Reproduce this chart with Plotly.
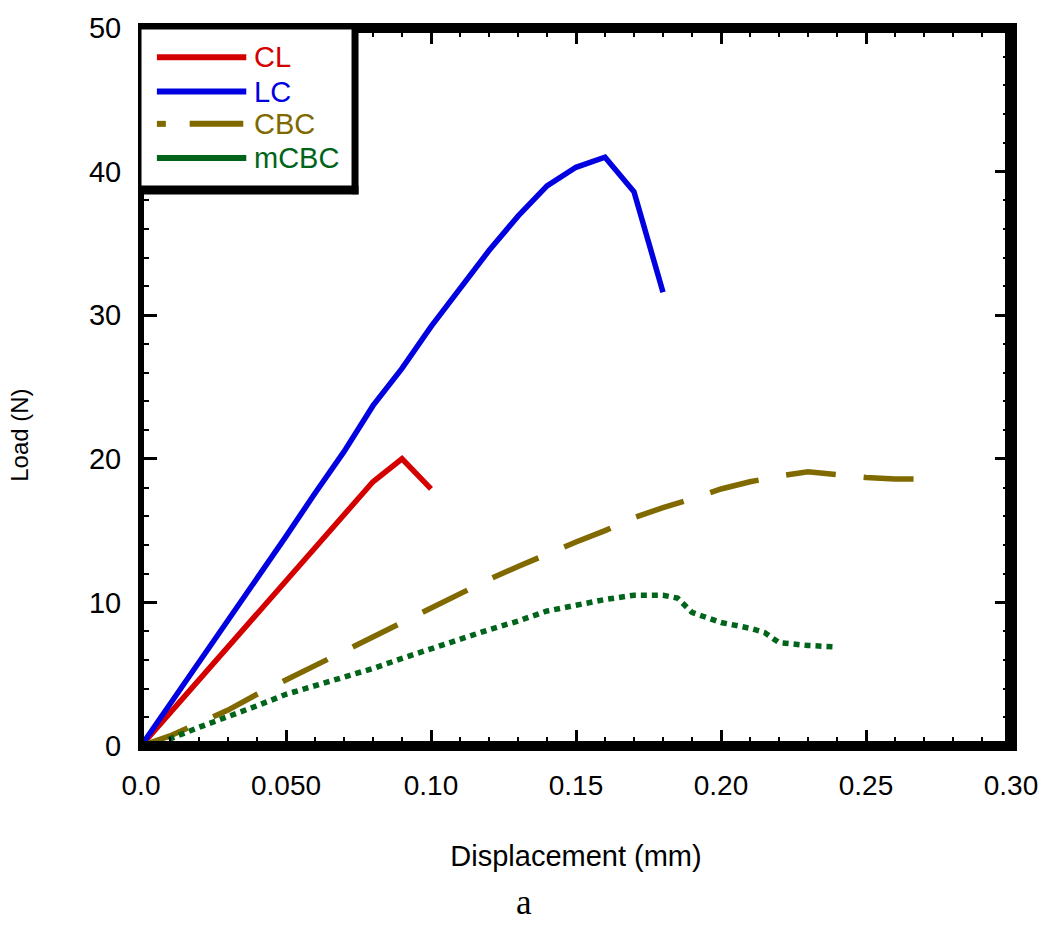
import plotly.graph_objects as go

# ---- data ----
x_cl = [0, 0.01, 0.02, 0.03, 0.04, 0.05, 0.06, 0.07, 0.08, 0.09, 0.10]
y_cl = [0, 2.3, 4.6, 6.9, 9.1, 11.4, 13.8, 16.1, 18.4, 20.0, 17.9]

x_lc = [0, 0.01, 0.02, 0.03, 0.04, 0.05, 0.06, 0.07, 0.08, 0.09, 0.10,
        0.11, 0.12, 0.13, 0.14, 0.15, 0.16, 0.17, 0.18]
y_lc = [0, 2.9, 5.8, 8.8, 11.7, 14.6, 17.6, 20.5, 23.7, 26.3, 29.2,
        31.9, 34.5, 36.9, 39.0, 40.3, 41.0, 38.6, 31.6]

x_cbc = [0, 0.01, 0.02, 0.03, 0.04, 0.05, 0.06, 0.07, 0.08, 0.09, 0.10,
         0.11, 0.12, 0.13, 0.14, 0.15, 0.16, 0.17, 0.18, 0.19, 0.20,
         0.21, 0.22, 0.23, 0.24, 0.25, 0.26, 0.27]
y_cbc = [0, 0.7, 1.6, 2.5, 3.6, 4.6, 5.6, 6.7, 7.6, 8.6, 9.6,
         10.6, 11.6, 12.5, 13.4, 14.2, 15.0, 15.9, 16.6, 17.2, 17.9,
         18.4, 18.8, 19.1, 18.9, 18.7, 18.6, 18.6]

x_mcbc = [0.0065, 0.01, 0.02, 0.03, 0.04, 0.05, 0.06, 0.07, 0.08, 0.09, 0.10,
          0.11, 0.12, 0.13, 0.14, 0.15, 0.16, 0.17, 0.18, 0.185, 0.19,
          0.20, 0.21, 0.215, 0.22, 0.23, 0.24]
y_mcbc = [0, 0.5, 1.3, 2.0, 2.8, 3.6, 4.2, 4.8, 5.4, 6.1, 6.8,
          7.5, 8.1, 8.7, 9.4, 9.8, 10.2, 10.5, 10.5, 10.3, 9.3,
          8.6, 8.2, 7.9, 7.2, 7.0, 6.9]

names = ["CL", "LC", "CBC", "mCBC"]
colors = ["#d40000", "#0000e0", "#806a00", "#00641a"]

x_tickvals = [0, 0.05, 0.10, 0.15, 0.20, 0.25, 0.30]
x_ticktext = ["0.0", "0.050", "0.10", "0.15", "0.20", "0.25", "0.30"]
y_tickvals = [0, 10, 20, 30, 40, 50]

FONT = "Liberation Sans, Arial, sans-serif"

fig = go.Figure()
fig.add_trace(go.Scatter(x=x_cl, y=y_cl, mode="lines", name=names[0],
                         line=dict(color=colors[0], width=5.5)))
fig.add_trace(go.Scatter(x=x_lc, y=y_lc, mode="lines", name=names[1],
                         line=dict(color=colors[1], width=5.5)))
fig.add_trace(go.Scatter(x=x_cbc, y=y_cbc, mode="lines", name=names[2],
                         line=dict(color=colors[2], width=5.5, dash="50px,28px")))
fig.add_trace(go.Scatter(x=x_mcbc, y=y_mcbc, mode="lines", name=names[3],
                         line=dict(color=colors[3], width=5.5, dash="6px,5px")))

# plot area geometry (pixels) for converting legend-box pixel positions
L, R, T, B = 141, 1017, 12, 746
W, H = R - L, B - T


def px(xp):
    return (xp - L) / W


def py(yp):
    return (B - yp) / H


shapes = []
# frame
shapes.append(dict(type="line", xref="paper", yref="paper", x0=0, x1=0,
                   y0=py(B + 5), y1=py(T - 5), line=dict(color="black", width=6)))
shapes.append(dict(type="line", xref="paper", yref="paper", x0=1, x1=1,
                   y0=py(B + 5), y1=py(T - 5), line=dict(color="black", width=12)))
shapes.append(dict(type="line", xref="paper", yref="paper", y0=1, y1=1,
                   x0=px(L - 3), x1=px(R + 6), line=dict(color="black", width=10)))
shapes.append(dict(type="line", xref="paper", yref="paper", y0=0, y1=0,
                   x0=px(L - 3), x1=px(R + 6), line=dict(color="black", width=10)))

# legend box
shapes.append(dict(type="rect", xref="paper", yref="paper",
                   x0=px(140), x1=px(356), y0=py(177), y1=py(12),
                   fillcolor="white", line=dict(color="black", width=3), layer="above"))
shapes.append(dict(type="line", xref="paper", yref="paper", x0=px(356.5), x1=px(356.5),
                   y0=py(182), y1=py(12), line=dict(color="black", width=7), layer="above"))
shapes.append(dict(type="line", xref="paper", yref="paper", x0=px(140), x1=px(360),
                   y0=py(177.5), y1=py(177.5), line=dict(color="black", width=9), layer="above"))

leg_y = [42, 77, 110, 145]
annotations = []
for i, (nm, c) in enumerate(zip(names, colors)):
    yy = py(leg_y[i])
    if nm == "CBC":
        shapes.append(dict(type="line", xref="paper", yref="paper", x0=px(157), x1=px(166),
                           y0=yy, y1=yy, line=dict(color=c, width=6), layer="above"))
        shapes.append(dict(type="line", xref="paper", yref="paper", x0=px(190), x1=px(244),
                           y0=yy, y1=yy, line=dict(color=c, width=6), layer="above"))
    else:
        shapes.append(dict(type="line", xref="paper", yref="paper", x0=px(157), x1=px(247),
                           y0=yy, y1=yy, line=dict(color=c, width=6), layer="above"))
    annotations.append(dict(xref="paper", yref="paper", x=px(253), y=yy, text=nm,
                            showarrow=False, xanchor="left", yanchor="middle",
                            font=dict(family=FONT, size=29, color=c)))

# y-axis title (placed like the reference, below the vertical centre)
annotations.append(dict(xref="paper", yref="paper", x=px(19), y=py(428), text="Load (N)",
                        textangle=-90, showarrow=False, xanchor="center", yanchor="middle",
                        font=dict(family=FONT, size=24, color="black")))

# caption "a"
annotations.append(dict(xref="paper", yref="paper", x=px(527), y=py(928), text="a",
                        showarrow=False, xanchor="center", yanchor="bottom",
                        font=dict(family="Liberation Serif, Times New Roman, serif",
                                  size=35, color="black")))

fig.update_layout(
    width=1050, height=929,
    margin=dict(l=L, r=1050 - R, t=T, b=929 - B),
    paper_bgcolor="white", plot_bgcolor="white",
    showlegend=False,
    font=dict(family=FONT, size=28, color="black"),
    shapes=shapes, annotations=annotations,
)

fig.update_xaxes(
    range=[0, 0.30], showgrid=False, zeroline=False,
    showline=True, linewidth=1, linecolor="black", mirror="allticks",
    ticks="inside", ticklen=16, tickwidth=3, tickcolor="black",
    tickvals=x_tickvals, ticktext=x_ticktext,
    minor=dict(dtick=0.01, tick0=0, ticks="inside", ticklen=9, tickwidth=2, tickcolor="black"),
    tickfont=dict(family=FONT, size=28),
    ticklabelstandoff=14, ticklabeloverflow="allow",
    title=dict(text="Displacement (mm)", font=dict(family=FONT, size=29), standoff=46),
)
fig.update_yaxes(
    range=[0, 50], showgrid=False, zeroline=False,
    showline=True, linewidth=1, linecolor="black", mirror="allticks",
    ticks="inside", ticklen=16, tickwidth=3, tickcolor="black",
    tickvals=y_tickvals,
    minor=dict(dtick=2, tick0=0, ticks="inside", ticklen=8, tickwidth=2, tickcolor="black"),
    tickfont=dict(family=FONT, size=29),
    ticklabelstandoff=13, ticklabeloverflow="allow",
)

fig.write_html("out.html", config={"displayModeBar": False},
               post_script="document.body.style.margin='0px';")
